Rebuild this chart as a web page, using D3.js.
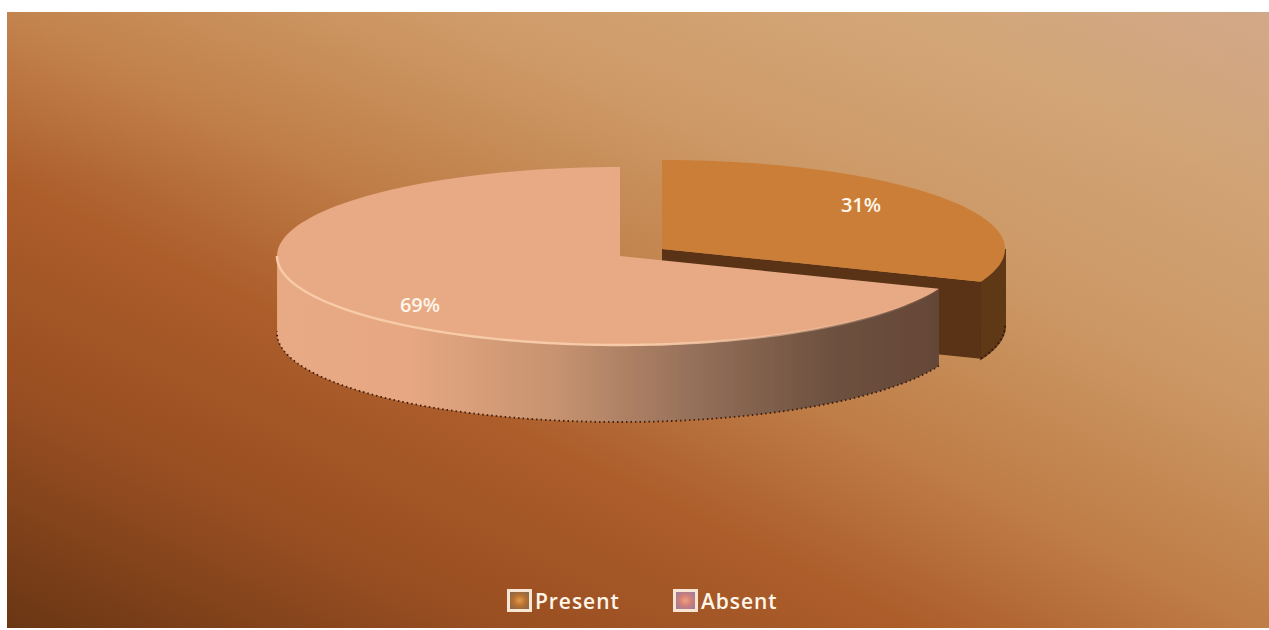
<!DOCTYPE html>
<html>
<head>
<meta charset="utf-8">
<script src="https://cdn.jsdelivr.net/npm/d3@7/dist/d3.min.js"></script>
<style>
html,body{margin:0;padding:0;background:#fff;overflow:hidden}
svg{display:block}
text{font-family:"Open Sans",sans-serif;fill:#fff6ea}
</style>
</head>
<body>
<svg id="chart" width="1269" height="630"></svg>
<script>
const categories = ["Present", "Absent"];
const values = [31, 69];
const percentLabels = ["31%", "69%"];
const topColors = ["#ca7e38", "#e8a985"];

const W = 1269, H = 630;
const plot = {x: 7, y: 12, w: 1262, h: 616};
const pieCenter = {x: 620, y: 256};
const rx = 343, ry = 89, depth = 77;
const explode = {dx: 42, dy: -7};

const svg = d3.select("#chart");
const defs = svg.append("defs");

// Page panel: bottom-left to top-right brown ramp
const bg = defs.append("linearGradient").attr("id", "panel")
  .attr("x1", 0).attr("y1", 1).attr("x2", 1).attr("y2", 0);
[[0, "#6a3614"], [0.2, "#9a4f22"], [0.36, "#ac5d2a"], [0.5, "#bf7d47"], [0.68, "#cc9865"], [0.85, "#d1a375"], [1, "#cfa688"]]
  .forEach(([o, c]) => bg.append("stop").attr("offset", o).attr("stop-color", c));

// Pale wash along the top of the panel
const wash = defs.append("linearGradient").attr("id", "wash")
  .attr("x1", 0).attr("y1", 0).attr("x2", 0).attr("y2", 1);
[[0, 0.1], [1, 0]].forEach(([o, a]) => wash.append("stop").attr("offset", o)
  .attr("stop-color", "#eac08c").attr("stop-opacity", a));

// Side wall of the large slice, lit from the left
const wall = defs.append("linearGradient").attr("id", "wall")
  .attr("gradientUnits", "userSpaceOnUse")
  .attr("x1", pieCenter.x - rx).attr("x2", pieCenter.x + rx * 0.95)
  .attr("y1", 0).attr("y2", 0);
[[0, "#e8a985"], [0.2, "#e6a782"], [0.42, "#c6926f"], [0.62, "#96705a"], [0.82, "#6e5240"], [1, "#644636"]]
  .forEach(([o, c]) => wall.append("stop").attr("offset", o).attr("stop-color", c));

// Rim highlight fades out toward the shaded side
const rim = defs.append("linearGradient").attr("id", "rim")
  .attr("gradientUnits", "userSpaceOnUse")
  .attr("x1", pieCenter.x - rx).attr("x2", pieCenter.x + rx * 0.95)
  .attr("y1", 0).attr("y2", 0);
[[0, 1], [0.55, 1], [0.85, 0.35], [1, 0]].forEach(([o, a]) => rim.append("stop").attr("offset", o)
  .attr("stop-color", "#f7cba8").attr("stop-opacity", a));

// Legend swatch fills
const sw0 = defs.append("radialGradient").attr("id", "swatch0");
[[0, "#e09a50"], [0.55, "#b9702f"], [1, "#8d6a48"]].forEach(([o, c]) => sw0.append("stop").attr("offset", o).attr("stop-color", c));
const sw1 = defs.append("radialGradient").attr("id", "swatch1");
[[0, "#f0a080"], [0.55, "#cf7f78"], [1, "#a77d96"]].forEach(([o, c]) => sw1.append("stop").attr("offset", o).attr("stop-color", c));

defs.append("filter").attr("id", "soft")
  .append("feGaussianBlur").attr("stdDeviation", 0.5);

svg.append("rect").attr("x", plot.x).attr("y", plot.y)
  .attr("width", plot.w).attr("height", plot.h).attr("fill", "url(#panel)");
svg.append("rect").attr("x", plot.x).attr("y", plot.y)
  .attr("width", plot.w).attr("height", 170).attr("fill", "url(#wash)");

const slices = d3.pie().sort(null)(values);

// Tilted circle: angle 0 at twelve o'clock, running clockwise
const project = (a, c) => [c.x + rx * Math.sin(a), c.y - ry * Math.cos(a)];
const arcPoints = (a0, a1, c) => d3.range(0, 121).map(i => project(a0 + (a1 - a0) * i / 120, c));
const line = d3.line();
const drop = pts => pts.map(([x, y]) => [x, y + depth]);

const centerOf = i => i === 0
  ? {x: pieCenter.x + explode.dx, y: pieCenter.y + explode.dy}
  : pieCenter;

const g = svg.append("g").attr("filter", "url(#soft)");

// Small slice: outer wall, cut face, then top
{
  const s = slices[0], c = centerOf(0);
  const edge = arcPoints(Math.PI / 2, s.endAngle, c);
  g.append("path").attr("d", line(edge.concat(drop(edge).reverse())) + "Z")
    .attr("fill", "#5f3716").attr("stroke", "#5f3716").attr("stroke-width", 2);
  const tip = project(s.endAngle, c);
  const cut = [[c.x, c.y], tip, [tip[0], tip[1] + depth], [c.x, c.y + depth]];
  g.append("path").attr("d", line(cut) + "Z").attr("fill", "#5a3213");
  g.append("path").attr("d", line([[c.x, c.y]].concat(arcPoints(s.startAngle, s.endAngle, c))) + "Z").attr("fill", topColors[0]);
  g.append("path").attr("d", line(drop(edge)))
    .attr("fill", "none").attr("stroke", "#2e1608").attr("stroke-width", 1.8).attr("stroke-dasharray", "1.5 3");
}

// Large slice: outer wall and top, with the pale rim along the front
{
  const s = slices[1], c = centerOf(1);
  const front = arcPoints(s.startAngle, Math.PI * 1.5 + 0.02, c);
  g.append("path").attr("d", line(front.concat(drop(front).reverse())) + "Z").attr("fill", "url(#wall)");
  g.append("path").attr("d", line([[c.x, c.y]].concat(arcPoints(s.startAngle, s.endAngle, c))) + "Z").attr("fill", topColors[1]);
  g.append("path").attr("d", line(arcPoints(s.startAngle, Math.PI * 1.5, c)))
    .attr("fill", "none").attr("stroke", "url(#rim)").attr("stroke-width", 2.4);
  // Speckled lower edge
  g.append("path").attr("d", line(drop(front)))
    .attr("fill", "none").attr("stroke", "#3c1c0c").attr("stroke-width", 1.8).attr("stroke-dasharray", "1.5 3");
}

// Percentage labels
const labelPos = [[861, 204], [420, 304]];
svg.selectAll("text.pct").data(percentLabels).join("text")
  .attr("class", "pct")
  .attr("x", (d, i) => labelPos[i][0]).attr("y", (d, i) => labelPos[i][1])
  .attr("text-anchor", "middle").attr("dominant-baseline", "central")
  .attr("font-size", 20).attr("font-weight", 600).text(d => d);

// Legend
const legendX = d3.scaleOrdinal().domain(categories).range([507, 673]);
const legend = svg.selectAll("g.key").data(categories).join("g")
  .attr("class", "key").attr("transform", d => `translate(${legendX(d)},589)`);
legend.append("rect").attr("x", 1.5).attr("y", 1.5).attr("width", 22).attr("height", 20)
  .attr("fill", (d, i) => `url(#swatch${i})`).attr("stroke", "#f8e6d2").attr("stroke-width", 3)
  .attr("filter", "url(#soft)");
legend.append("text").attr("x", 28).attr("y", 12).attr("dominant-baseline", "central")
  .attr("font-size", 21).attr("font-weight", 600).attr("letter-spacing", 0.95).text(d => d);
</script>
</body>
</html>
